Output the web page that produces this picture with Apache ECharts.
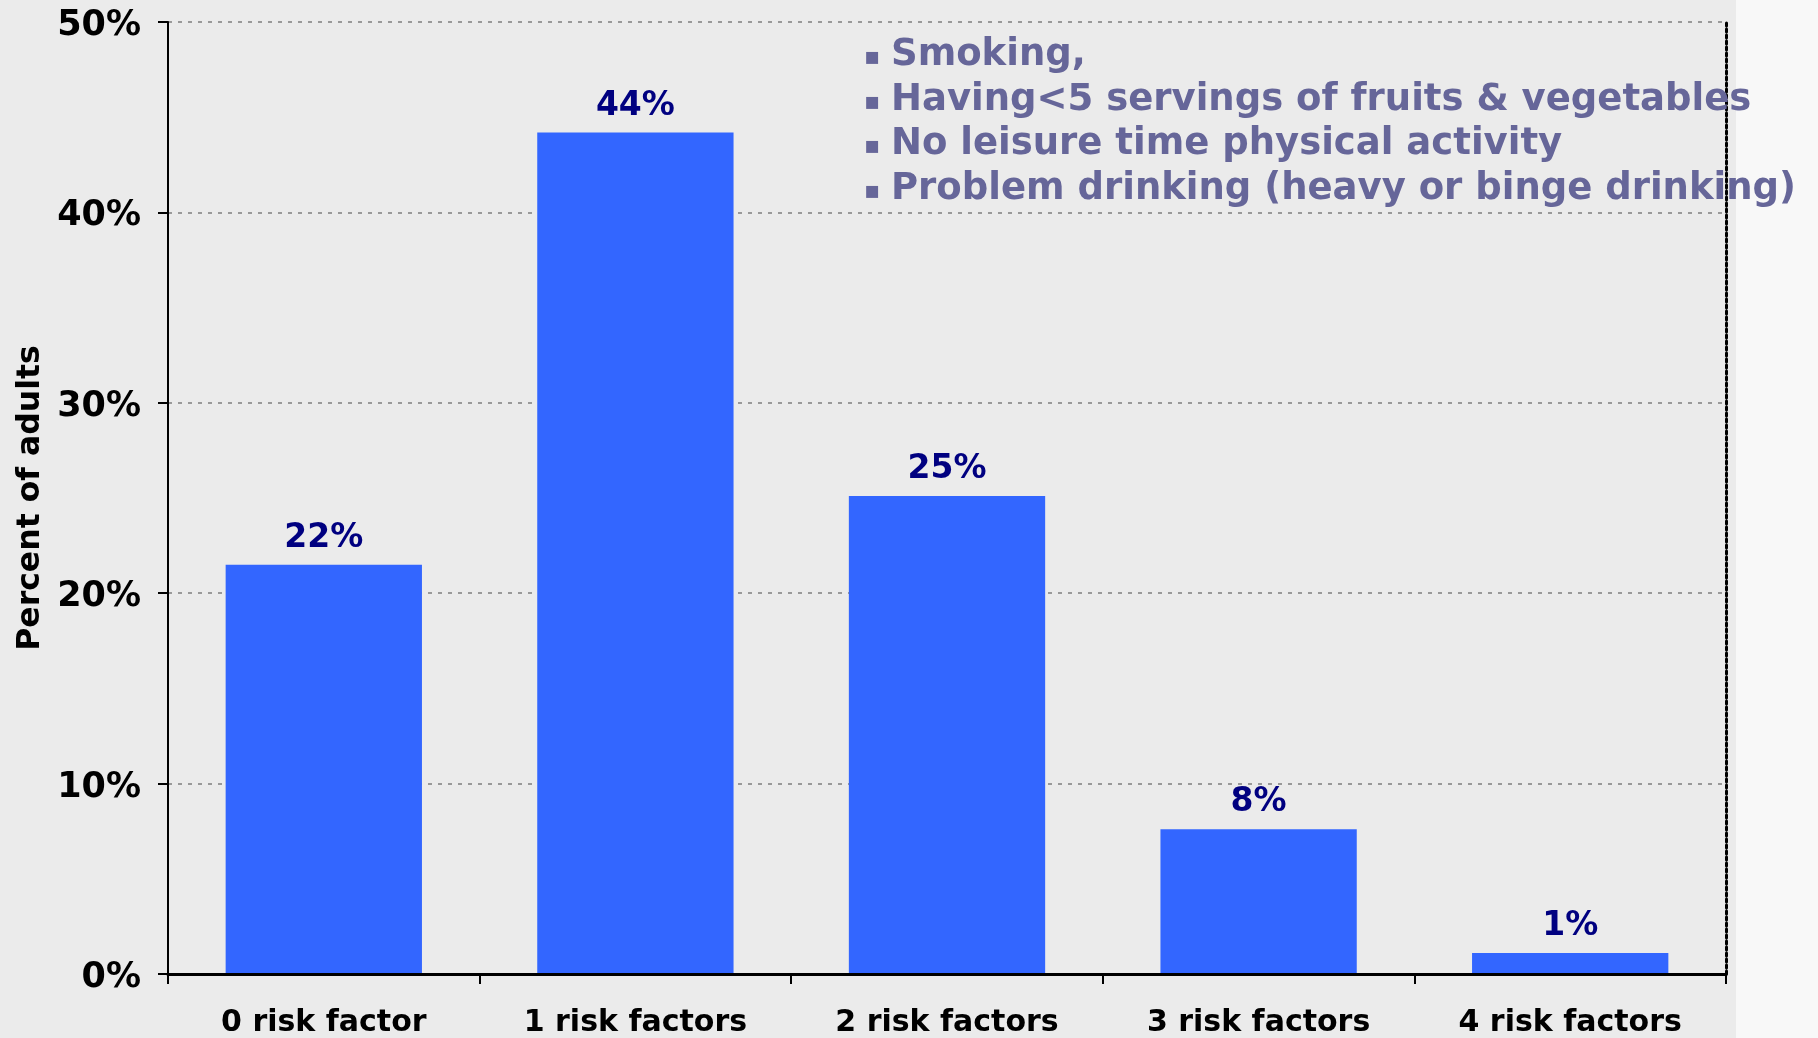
<!DOCTYPE html>
<html>
<head>
<meta charset="utf-8">
<script src="https://cdn.jsdelivr.net/npm/echarts@6/dist/echarts.min.js"></script>
<style>
html,body{margin:0;padding:0;background:#f8f8f8;}
#c{width:1818px;height:1038px;}
</style>
</head>
<body>
<div id="c"></div>
<script>
const categories = ['0 risk factor', '1 risk factors', '2 risk factors', '3 risk factors', '4 risk factors'];
const values = [21.5, 44.2, 25.1, 7.6, 1.1];
const valueLabels = ['22%', '44%', '25%', '8%', '1%'];
const legendLines = ['Smoking,', 'Having<5 servings of fruits & vegetables', 'No leisure time physical activity', 'Problem drinking (heavy or binge drinking)'];
const yAxisName = 'Percent of adults';

const font = '"DejaVu Sans", Verdana, sans-serif';
const chart = echarts.init(document.getElementById('c'));

const legendGraphics = [];
legendLines.forEach((t, i) => {
  const cy = 60 + i * 44.5;
  legendGraphics.push({
    type: 'text', left: 864, top: cy - 14, z: 10,
    style: { text: '\u25AA', fill: '#666699', font: 'bold 24px ' + font }
  });
  legendGraphics.push({
    type: 'text', left: 891, top: cy - 23, z: 10,
    style: { text: t, fill: '#666699', font: 'bold 37px ' + font }
  });
});

chart.setOption({
  backgroundColor: '#f8f8f8',
  animation: false,
  graphic: [
    { type: 'rect', left: 0, top: 0, z: -10, shape: { width: 1736, height: 1038 }, style: { fill: '#ebebeb' } }
  ].concat(legendGraphics),
  grid: { left: 168, right: 92, top: 22, bottom: 64 },
  xAxis: [{
    type: 'category',
    data: categories,
    position: 'bottom',
    z: 5,
    axisLine: { lineStyle: { color: '#000', width: 3 } },
    axisTick: { show: true, length: 10, lineStyle: { color: '#000', width: 2 } },
    axisLabel: { color: '#000', fontFamily: font, fontWeight: 'bold', fontSize: 30, margin: 34 }
  }, {
    type: 'category',
    data: categories,
    position: 'top',
    z: 5,
    axisLine: { show: true, lineStyle: { color: '#000', width: 2, type: [4, 4] } },
    axisTick: { show: false },
    axisLabel: { show: false }
  }],
  yAxis: [{
    type: 'value',
    min: 0, max: 50, interval: 10,
    name: yAxisName,
    nameLocation: 'middle',
    nameGap: 121,
    nameTextStyle: { color: '#000', fontFamily: font, fontWeight: 'bold', fontSize: 31.5 },
    axisLine: { show: true, lineStyle: { color: '#000', width: 2 } },
    axisTick: { show: true, length: 10, lineStyle: { color: '#000', width: 2 } },
    axisLabel: {
      margin: 27,
      formatter: v => '{v|' + v + '%}',
      rich: { v: { color: '#000', fontFamily: font, fontWeight: 'bold', fontSize: 35, padding: [8, 0, 0, 0] } }
    },
    splitLine: { show: true, lineStyle: { color: '#999', width: 2, type: [4, 6] } }
  }, {
    type: 'value',
    min: 0, max: 50, interval: 10,
    position: 'right',
    z: 5,
    axisLine: { show: true, lineStyle: { color: '#000', width: 3, type: [3, 3] } },
    axisTick: { show: false },
    axisLabel: { show: false },
    splitLine: { show: false }
  }],
  series: [{
    type: 'bar',
    data: values,
    barWidth: '63%',
    itemStyle: { color: '#3366ff' },
    label: {
      show: true, position: 'top', distance: 10,
      color: '#000080', fontFamily: font, fontWeight: 'bold', fontSize: 33,
      formatter: p => valueLabels[p.dataIndex]
    }
  }]
});
</script>
</body>
</html>
